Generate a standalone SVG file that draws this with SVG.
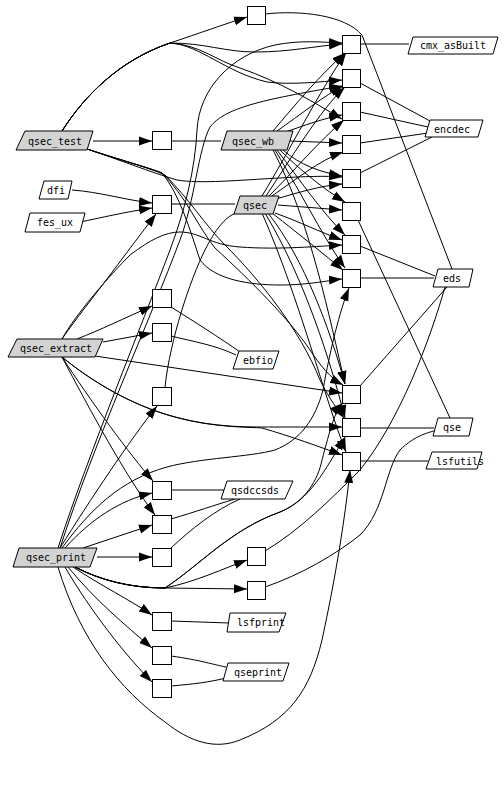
<svg xmlns="http://www.w3.org/2000/svg" width="504" height="798" viewBox="0 0 504 798">
<defs>
<marker id="a" markerWidth="13" markerHeight="10" refX="13" refY="5" orient="auto" markerUnits="userSpaceOnUse"><path d="M0,0.5 L13,5 L0,9.5 z" fill="#000"/></marker>
<style>
.b{fill:#fff;stroke:#000;stroke-width:1}
.p{fill:#d3d3d3;stroke:#000;stroke-width:1}
.w{fill:#fff;stroke:#000;stroke-width:1}
text{font-family:"DejaVu Sans Mono","Liberation Mono",monospace;font-size:10px;text-anchor:middle;fill:#000}
#edges path{fill:none;stroke:#000;stroke-width:1}
#edges path.d{marker-end:url(#a)}
</style>
</defs>
<rect width="504" height="798" fill="#fff"/>
<g id="edges">
<!-- qsec_test -->
<path class="d" d="M93,141 L152,141"/>
<path class="d" d="M62,131 C85,95 120,60 170,43 C200,33 225,24 247,17"/>
<path class="d" d="M62,131 C85,95 120,60 170,43 C205,43 225,52 255,52 C290,52 315,46 342,44"/>
<path class="d" d="M62,131 C85,95 120,60 170,43 C200,45 225,72 267,82 C290,85 320,82 342,80"/>
<path class="d" d="M62,131 C85,95 120,60 170,43 C200,45 215,60 240,68 C280,82 310,100 342,119"/>
<path class="d" d="M87,149 C120,160 150,172 177,180 C200,184 240,180 280,178 C310,176 330,176 342,177"/>
<path class="d" d="M87,149 C120,160 150,168 162,173 C180,195 190,230 200,260 C215,280 250,285 280,285 C310,285 330,280 342,279"/>
<path class="d" d="M87,149 C120,160 150,168 162,173 C185,195 200,230 215,248 C250,280 290,320 310,350 C320,365 330,378 343,385"/>
<path class="d" d="M87,149 C120,160 150,168 165,175 C190,200 205,225 225,245 C260,280 300,330 320,380 C330,400 338,410 344,418"/>
<!-- qsec_extract -->
<path class="d" d="M77,339 C100,330 125,318 152,306"/>
<path class="d" d="M103,342 L152,333"/>
<path class="d" d="M62,339 C75,320 95,295 110,275 C125,255 140,235 156,214"/>
<path class="d" d="M62,339 C75,315 110,275 130,255 C150,240 165,232 180,232 C200,232 210,245 240,247 C280,250 320,246 342,245"/>
<path class="d" d="M95,356 L342,393"/>
<path class="d" d="M62,357 C90,380 130,405 175,417 C215,428 250,427 280,427 C310,427 330,427 342,427"/>
<path class="d" d="M62,357 C90,380 130,405 175,417 C215,428 250,427 262,428 C290,436 320,447 342,455"/>
<path class="d" d="M62,357 C90,400 130,455 153,481"/>
<path class="d" d="M62,357 C90,410 125,475 155,515"/>
<!-- qsec_print -->
<path class="d" d="M97,557 L152,557"/>
<path class="d" d="M83,548 L152,525"/>
<path class="d" d="M65,548 C90,520 120,500 152,493"/>
<path class="d" d="M60,548 C90,500 130,440 157,406"/>
<path class="d" d="M73,567 C100,585 130,600 152,615"/>
<path class="d" d="M68,567 C95,600 125,625 152,648"/>
<path class="d" d="M65,567 C90,610 125,655 152,682"/>
<path class="d" d="M75,567 C100,580 130,588 165,588 C195,582 225,568 247,560"/>
<path class="d" d="M75,567 C100,580 130,588 165,588 L247,589"/>
<path class="d" d="M58,567 C80,640 120,690 165,722 C190,742 215,750 240,740 C290,720 310,690 322,640 C335,580 345,520 350,470"/>
<path class="d" d="M75,567 C100,580 130,588 165,588 C200,565 230,530 280,512 C310,500 325,470 345,437"/>
<path class="d" d="M75,567 C100,580 130,588 165,588 C200,565 230,530 280,512 C305,502 318,480 322,460 C330,430 335,410 343,403"/>
<path class="d" d="M62,548 C90,510 120,480 167,467 C200,458 250,457 275,450 C300,440 315,420 323,390 C330,350 340,310 349,288"/>
<path class="d" d="M58,548 C90,450 140,330 170,250 C185,210 195,170 197,130 C199,90 230,55 275,45 C300,40 320,42 342,43"/>
<path class="d" d="M60,548 C95,440 150,320 180,240 C195,200 198,150 210,127 C225,108 260,100 342,86"/>
<!-- qsec_wb -->
<path class="d" d="M273,131 C295,105 320,75 345,53"/>
<path class="d" d="M277,131 C300,115 325,95 343,86"/>
<path class="d" d="M283,133 C305,125 325,118 342,115"/>
<path class="d" d="M290,141 L342,143"/>
<path class="d" d="M283,150 C300,165 320,172 342,176"/>
<path class="d" d="M280,150 C300,170 325,190 345,202"/>
<path class="d" d="M277,150 C300,180 320,210 345,235"/>
<path class="d" d="M275,150 C305,200 325,240 345,268"/>
<path class="d" d="M273,150 C310,220 330,320 345,384"/>
<!-- qsec -->
<path class="d" d="M262,196 C290,150 320,90 346,53"/>
<path class="d" d="M266,196 C290,160 320,110 345,87"/>
<path class="d" d="M269,196 C295,170 320,140 344,120"/>
<path class="d" d="M272,196 C295,180 320,160 343,152"/>
<path class="d" d="M276,199 C300,192 320,186 342,184"/>
<path class="d" d="M278,205 L342,210"/>
<path class="d" d="M275,213 C300,222 320,232 342,240"/>
<path class="d" d="M272,213 C300,235 325,255 343,270"/>
<path class="d" d="M268,213 C305,260 330,330 345,384"/>
<path class="d" d="M265,213 C305,280 330,360 345,418"/>
<path class="d" d="M262,213 C300,300 325,400 346,452"/>
<!-- dfi / fes_ux -->
<path class="d" d="M72,190 C100,192 125,200 152,203"/>
<path class="d" d="M80,222 C100,218 125,212 152,208"/>
<!-- undirected -->
<path d="M171,141 L221,141"/>
<path d="M171,204 L235,204"/>
<path d="M171,307 C195,322 220,338 240,352"/>
<path d="M171,336 C195,342 215,345 236,355"/>
<path d="M165,387 C170,340 190,280 205,250 C215,230 225,217 236,213"/>
<path d="M171,490 L225,490"/>
<path d="M171,519 C195,512 215,505 235,499"/>
<path d="M171,548 C190,530 215,510 240,499"/>
<path d="M171,621 L229,623"/>
<path d="M171,656 C200,660 215,665 226,667"/>
<path d="M171,686 C195,684 210,682 226,678"/>
<path d="M265,551 C300,530 330,500 360,470 C400,420 430,340 445,287"/>
<path d="M265,587 C300,575 335,555 360,535 C385,510 385,470 400,450 C415,435 430,432 438,430"/>
<path d="M265,14 C300,10 345,15 362,35 L452,269"/>
<path d="M360,44 L409,44"/>
<path d="M360,83 L430,121"/>
<path d="M360,112 L428,127"/>
<path d="M360,143 L428,133"/>
<path d="M360,173 L432,137"/>
<path d="M358,220 L450,418"/>
<path d="M360,246 L435,276"/>
<path d="M360,278 L434,278"/>
<path d="M360,386 L447,287"/>
<path d="M360,428 L434,428"/>
<path d="M360,461 L428,461"/>
</g>
<g id="T"><rect class="b" x="247.5" y="6.5" width="18" height="18"/></g>
<g id="B1"><rect class="b" x="342.5" y="35.5" width="18" height="18"/></g>
<g id="B2"><rect class="b" x="342.5" y="69.5" width="18" height="18"/></g>
<g id="B3"><rect class="b" x="342.5" y="102.5" width="18" height="18"/></g>
<g id="B4"><rect class="b" x="342.5" y="135.5" width="18" height="18"/></g>
<g id="B5"><rect class="b" x="342.5" y="169.5" width="18" height="18"/></g>
<g id="B6"><rect class="b" x="342.5" y="202.5" width="18" height="18"/></g>
<g id="B7"><rect class="b" x="342.5" y="235.5" width="18" height="18"/></g>
<g id="B8"><rect class="b" x="342.5" y="269.5" width="18" height="18"/></g>
<g id="B9"><rect class="b" x="342.5" y="385.5" width="18" height="18"/></g>
<g id="B10"><rect class="b" x="342.5" y="418.5" width="18" height="18"/></g>
<g id="B11"><rect class="b" x="342.5" y="452.5" width="18" height="18"/></g>
<g id="L1"><rect class="b" x="152.5" y="131.5" width="19" height="18"/></g>
<g id="L2"><rect class="b" x="152.5" y="195.5" width="19" height="18"/></g>
<g id="L3"><rect class="b" x="152.5" y="289.5" width="19" height="18"/></g>
<g id="L4"><rect class="b" x="152.5" y="323.5" width="19" height="18"/></g>
<g id="L5"><rect class="b" x="152.5" y="387.5" width="19" height="18"/></g>
<g id="L6"><rect class="b" x="152.5" y="481.5" width="19" height="18"/></g>
<g id="L7"><rect class="b" x="152.5" y="515.5" width="19" height="18"/></g>
<g id="L8"><rect class="b" x="152.5" y="548.5" width="19" height="18"/></g>
<g id="L9"><rect class="b" x="152.5" y="612.5" width="19" height="18"/></g>
<g id="L10"><rect class="b" x="152.5" y="646.5" width="19" height="18"/></g>
<g id="L11"><rect class="b" x="152.5" y="679.5" width="19" height="18"/></g>
<g id="M1"><rect class="b" x="247.5" y="547.5" width="18" height="18"/></g>
<g id="M2"><rect class="b" x="247.5" y="581.5" width="18" height="18"/></g>
<g id="qsec_test"><polygon class="p" points="25,131 93,131 87,150 16,150"/><text x="55" y="145">qsec_test</text></g>
<g id="dfi"><polygon class="w" points="44,181 72,181 68,199 39,199"/><text x="56" y="194">dfi</text></g>
<g id="fes_ux"><polygon class="w" points="30,213 85,213 80,232 25,232"/><text x="55" y="226">fes_ux</text></g>
<g id="qsec_wb"><polygon class="p" points="227,131 293,131 287,150 221,150"/><text x="253" y="145">qsec_wb</text></g>
<g id="qsec"><polygon class="p" points="240,196 279,196 273,214 234,214"/><text x="255" y="209">qsec</text></g>
<g id="qsec_extract"><polygon class="p" points="17,339 103,339 95,357 8,357"/><text x="56" y="352">qsec_extract</text></g>
<g id="qsec_print"><polygon class="p" points="19,548 97,548 90,567 13,567"/><text x="56" y="561">qsec_print</text></g>
<g id="cmx_asBuilt"><polygon class="w" points="413,37 498,37 493,54 408,54"/><text x="453" y="49">cmx_asBuilt</text></g>
<g id="encdec"><polygon class="w" points="430,120 483,120 478,137 425,137"/><text x="452" y="133">encdec</text></g>
<g id="eds"><polygon class="w" points="438,269 473,269 469,287 433,287"/><text x="452" y="282">eds</text></g>
<g id="qse"><polygon class="w" points="438,418 473,418 469,436 433,436"/><text x="452" y="431">qse</text></g>
<g id="lsfutils"><polygon class="w" points="432,452 482,452 477,469 426,469"/><text x="460" y="465">lsfutils</text></g>
<g id="ebfio"><polygon class="w" points="239,351 279,351 273,369 233,369"/><text x="258" y="364">ebfio</text></g>
<g id="qsdccsds"><polygon class="w" points="227,481 293,481 285,499 221,499"/><text x="255" y="494">qsdccsds</text></g>
<g id="lsfprint"><polygon class="w" points="230,613 286,613 279,632 227,632"/><text x="261" y="626">lsfprint</text></g>
<g id="qseprint"><polygon class="w" points="228,663 289,663 283,681 223,681"/><text x="258" y="676">qseprint</text></g>
</svg>
